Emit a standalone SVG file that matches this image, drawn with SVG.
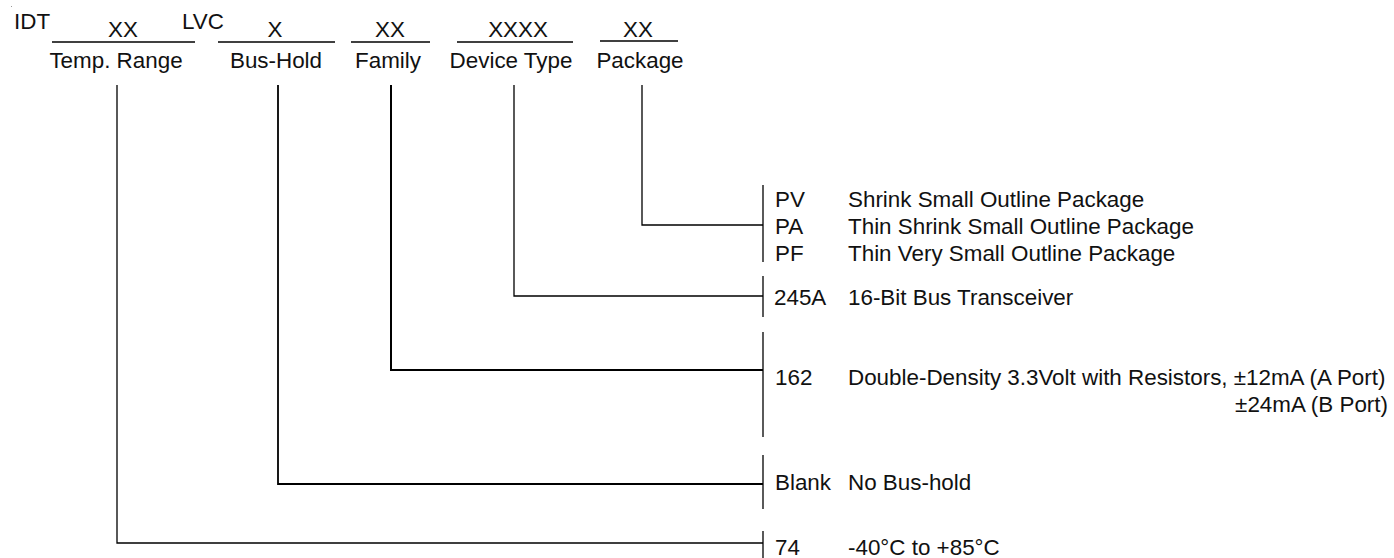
<svg xmlns="http://www.w3.org/2000/svg" width="1394" height="558" viewBox="0 0 1394 558">
<style>
text{font-family:"Liberation Sans",Arial,sans-serif;font-size:22.4px;fill:#111}
.c{text-anchor:middle}
.ln{stroke:#000;stroke-width:1.3;fill:none}
</style>
<rect width="1394" height="558" fill="#fff"/>
<rect x="11" y="6" width="1" height="1" fill="#999"/>
<g id="header">
<text x="14" y="29">IDT</text>
<text x="182" y="29">LVC</text>
</g>
<g id="temp-range">
<text class="c" x="123" y="37">XX</text>
<line class="ln" x1="52" y1="42" x2="195" y2="42"/>
<text class="c" x="116" y="68">Temp. Range</text>
</g>
<g id="bus-hold">
<text class="c" x="275" y="37">X</text>
<line class="ln" x1="218" y1="42" x2="335" y2="42"/>
<text class="c" x="276" y="68">Bus-Hold</text>
</g>
<g id="family">
<text class="c" x="390" y="37">XX</text>
<line class="ln" x1="351" y1="42" x2="430" y2="42"/>
<text class="c" x="388" y="68">Family</text>
</g>
<g id="device-type">
<text class="c" x="518" y="37">XXXX</text>
<line class="ln" x1="457" y1="42" x2="573" y2="42"/>
<text class="c" x="511" y="68">Device Type</text>
</g>
<g id="package">
<text class="c" x="638" y="37">XX</text>
<line class="ln" x1="600" y1="41" x2="678" y2="41"/>
<text class="c" x="640" y="68">Package</text>
</g>
<g id="opt-package">
<line class="ln" x1="763" y1="185" x2="763" y2="262"/>
<text x="775" y="207">PV</text><text x="848" y="207">Shrink Small Outline Package</text>
<text x="775" y="234">PA</text><text x="848" y="234">Thin Shrink Small Outline Package</text>
<text x="775" y="261">PF</text><text x="848" y="261">Thin Very Small Outline Package</text>
</g>
<g id="opt-device">
<line class="ln" x1="763" y1="276" x2="763" y2="317"/>
<text x="774" y="305">245A</text><text x="848" y="305">16-Bit Bus Transceiver</text>
</g>
<g id="opt-family">
<line class="ln" x1="763" y1="332" x2="763" y2="437"/>
<text x="775" y="385">162</text><text x="848" y="385">Double-Density 3.3Volt with Resistors, ±12mA (A Port)</text>
<text x="1388" y="412" text-anchor="end">±24mA (B Port)</text>
</g>
<g id="opt-bushold">
<line class="ln" x1="763" y1="455" x2="763" y2="509"/>
<text x="775" y="490">Blank</text><text x="848" y="490">No Bus-hold</text>
</g>
<g id="opt-temp">
<line class="ln" x1="763" y1="531" x2="763" y2="558"/>
<text x="775" y="555">74</text><text x="848" y="555">-40°C to +85°C</text>
</g>
<g id="connectors">
<polyline class="ln" points="642,85 642,225 763,225"/>
<polyline class="ln" points="514,85 514,296 763,296"/>
<polyline class="ln" points="391,85 391,370 763,370" style="stroke-width:2"/>
<polyline class="ln" points="278,85 278,484 763,484" style="stroke-width:1.8"/>
<polyline class="ln" points="117,85 117,543 763,543"/>
</g>
</svg>
